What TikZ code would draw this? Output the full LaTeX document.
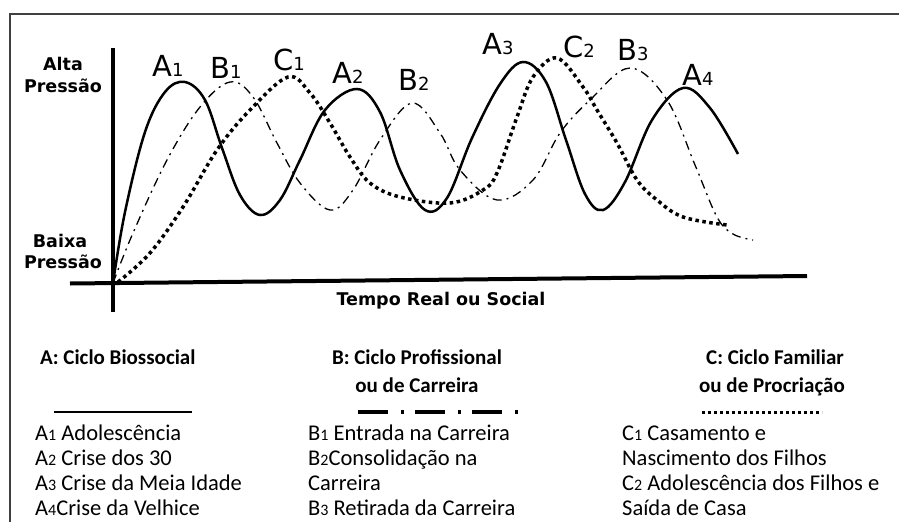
\documentclass[tikz,border=0pt]{standalone}
\usepackage{fontspec}
\newfontfamily\verdfont{DejaVu Sans}
\newfontfamily\califont{Carlito}
\usetikzlibrary{positioning}
\newcommand{\pksub}[1]{{\fontsize{18}{18}\selectfont #1}}
\newcommand{\lgsub}[1]{{\fontsize{16}{16}\selectfont #1}}

\begin{document}
\begin{tikzpicture}[x=1pt, y=-1pt,
        axislbl/.style={font=\verdfont\bfseries\fontsize{17.5}{20}\selectfont, inner sep=0pt, anchor=base},
        peaklbl/.style={font=\verdfont\fontsize{29}{29}\selectfont, inner sep=0pt, anchor=base west},
        legtitle/.style={font=\califont\bfseries\fontsize{21}{25}\selectfont, inner sep=0pt, anchor=base},
        legitem/.style={font=\califont\fontsize{22.5}{25}\selectfont, inner sep=0pt, anchor=base west},
        cycA/.style={line width=2.5pt},
        cycB/.style={line width=1.3pt, dash pattern=on 9pt off 5pt on 2pt off 5pt},
        cycC/.style={line width=3.5pt, dash pattern=on 3.5pt off 3.5pt},
    ]
    \useasboundingbox (0,0) rectangle (899,522);

    % ---- Frame ----
    \draw[line width=1.5pt, black!75] (10,522) -- (10,14) -- (899,14);

    % ---- Axes ----
    \draw[line width=4pt] (113,48) -- (113,312);
    \draw[line width=4pt] (70,283.5) -- (807,276);

    \node[axislbl] (alta)  at (63,70)  {Alta};
    \node[axislbl] (altap) at (63,92)  {Pressão};
    \node[axislbl] (baixa) at (60,247) {Baixa};
    \node[axislbl] (baixap) at (63,268) {Pressão};
    \node[axislbl] (tempo) at (441,305) {Tempo Real ou Social};

    % ---- Cycle A: solid ----
    \draw[cycA] plot[smooth, tension=0.6] coordinates {
        (113,283) (125,212) (145,132) (165,92) (185,82) (205,100) (222,148)
        (240,195) (260,215) (280,200) (300,160) (325,110) (357,89) (380,112)
        (400,170) (425,210) (447,198) (472,138) (500,84) (523,62) (546,82)
        (566,140) (585,194) (603,210) (625,182) (652,120) (683,88) (710,108)
        (738,154)};

    % ---- Cycle B: dash-dot ----
    \draw[cycB] plot[smooth, tension=0.6] coordinates {
        (113,283) (133,233) (167,160) (200,107) (230,82) (253,97) (277,143)
        (300,183) (330,210) (353,190) (380,140) (412,103) (440,133) (460,170)
        (497,200) (533,180) (560,133) (590,100) (630,68) (667,100) (695,165)
        (717,217) (733,234) (753,240)};

    % ---- Cycle C: dotted ----
    \draw[cycC] plot[smooth, tension=0.6] coordinates {
        (118,282) (150,253) (183,207) (217,150) (250,110) (288,77) (310,93)
        (330,123) (350,157) (370,183) (400,197) (450,203) (483,190) (497,173)
        (517,117) (533,77) (557,58) (583,87) (597,110) (617,143) (637,180)
        (657,200) (683,217) (727,225)};

    % ---- Peak labels ----
    \node[peaklbl] (a1) at (152,76) {A\pksub{1}};
    \node[peaklbl] (b1) at (210,78) {B\pksub{1}};
    \node[peaklbl] (c1) at (273,70) {C\pksub{1}};
    \node[peaklbl] (a2) at (332,83) {A\pksub{2}};
    \node[peaklbl] (b2) at (398,90) {B\pksub{2}};
    \node[peaklbl] (a3) at (482,54) {A\pksub{3}};
    \node[peaklbl] (c2) at (563,57) {C\pksub{2}};
    \node[peaklbl] (b3) at (617,60) {B\pksub{3}};
    \node[peaklbl] (a4) at (682,85) {A\pksub{4}};

    % ---- Legend A ----
    \node[legtitle, anchor=base west] (tA) at (40,364) {A: Ciclo Biossocial};
    \draw[line width=2pt] (54,412) -- (192,412);
    \node[legitem] (a1t) at (35,440) {A\lgsub{1} Adolescência};
    \node[legitem] (a2t) at (35,465) {A\lgsub{2} Crise dos 30};
    \node[legitem] (a3t) at (35,490) {A\lgsub{3} Crise da Meia Idade};
    \node[legitem] (a4t) at (35,515) {A\lgsub{4}Crise da Velhice};

    % ---- Legend B ----
    \node[legtitle] (tB1) at (417,364) {B: Ciclo Profissional};
    \node[legtitle] (tB2) at (417,392) {ou de Carreira};
    \draw[line width=3.5pt, dash pattern=on 30pt off 13pt on 3pt off 11pt] (358,412) -- (521,412);
    \node[legitem] (b1t) at (308,440) {B\lgsub{1} Entrada na Carreira};
    \node[legitem] (b2t) at (308,465) {B\lgsub{2}Consolidação na};
    \node[legitem] (b2u) at (308,490) {Carreira};
    \node[legitem] (b3t) at (308,515) {B\lgsub{3} Retirada da Carreira};

    % ---- Legend C ----
    \node[legtitle] (tC1) at (775,364) {C: Ciclo Familiar};
    \node[legtitle] (tC2) at (772,392) {ou de Procriação};
    \draw[line width=3pt, dash pattern=on 3pt off 3pt] (702,412) -- (822,412);
    \node[legitem] (c1t) at (622,440) {C\lgsub{1} Casamento e};
    \node[legitem] (c1u) at (622,465) {Nascimento dos Filhos};
    \node[legitem] (c2t) at (622,490) {C\lgsub{2} Adolescência dos Filhos e};
    \node[legitem] (c2u) at (622,515) {Saída de Casa};

\end{tikzpicture}
\end{document}
